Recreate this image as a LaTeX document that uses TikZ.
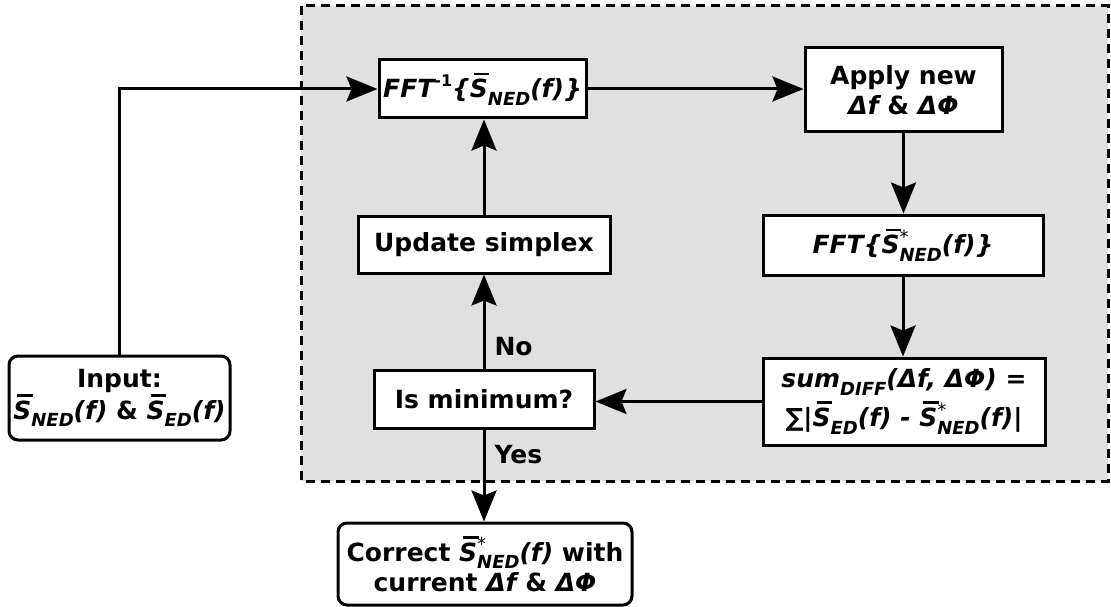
\documentclass[tikz,border=0pt]{standalone}
\usepackage{fontspec}
\setmainfont{DejaVu Sans}
\usetikzlibrary{arrows.meta}

% S with an overbar
\newcommand\Sb{\leavevmode\rlap{\hspace{0.16em}\rule[0.9em]{0.62em}{0.11em}}\textit{S}}
% lowered subscript
\newcommand\lsub[1]{\raisebox{-0.3em}{\fontsize{18}{18}\selectfont\itshape #1}}
% asterisk stacked over a lowered subscript
\newcommand\ssub[1]{\rlap{\raisebox{0.42em}{\fontsize{18}{18}\selectfont\mdseries *}}\lsub{#1}}

\begin{document}
\begin{tikzpicture}[x=1pt,y=-1pt,
  box/.style={draw,line width=3pt,fill=white,align=center,inner sep=0pt,
    font=\fontsize{25}{30}\selectfont\bfseries},
  rbox/.style={box,rounded corners=9pt},
  flow/.style={line width=3pt,-{Stealth[length=31pt,width=25pt,inset=5pt]}},
  lbl/.style={font=\fontsize{25}{30}\selectfont\bfseries}]
\useasboundingbox (0,0) rectangle (1111,607);

% iteration region
\draw[line width=3pt,dash pattern=on 9pt off 6pt,fill={rgb,255:red,224;green,224;blue,224}]
  (301,6) rectangle (1108,481);

\node[box,minimum width=207pt,minimum height=58pt] (ifft) at (482.5,89)
  {{\itshape FFT}\raisebox{0.45em}{\fontsize{16}{16}\selectfont -1}{\itshape\{\Sb\lsub{NED}(f)\}}};
\node[box,minimum width=197pt,minimum height=84pt] (apply) at (903.5,90)
  {Apply new\\{\itshape Δf} \& {\itshape ΔΦ}};
\node[box,minimum width=280pt,minimum height=60pt] (fft) at (903,245)
  {\itshape FFT\{\Sb\ssub{NED}(f)\}};
\node[box,minimum width=282pt,minimum height=87pt] (sum) at (904,401.5)
  {\itshape sum\lsub{DIFF}(Δf, ΔΦ) =\\[5pt]{\upshape ∑}{\itshape |\Sb\lsub{ED}(f) - \Sb\ssub{NED}(f)|}};
\node[box,minimum width=252pt,minimum height=57pt] (update) at (484,244.5)
  {Update simplex};
\node[box,minimum width=220pt,minimum height=58pt] (ismin) at (484,399)
  {Is minimum?};
\node[rbox,minimum width=221pt,minimum height=84pt] (input) at (119.5,398)
  {Input:\\{\itshape\Sb\lsub{NED}(f)} \& {\itshape\Sb\lsub{ED}(f)}};
\node[rbox,minimum width=294pt,minimum height=82pt] (correct) at (485,564)
  {Correct {\itshape\Sb\ssub{NED}(f)} with\\current {\itshape Δf} \& {\itshape ΔΦ}};

\node[lbl,anchor=west] (no) at (491,347) {No};
\node[lbl,anchor=west] (yes) at (491,455) {Yes};

\draw[flow] (input.north) |- (ifft.west);
\draw[flow] (ifft.east) -- (ifft.east -| apply.west);
\draw[flow] (apply.south) -- (apply.south |- fft.north);
\draw[flow] (fft.south) -- (fft.south |- sum.north);
\draw[flow] (sum.west) -- (sum.west -| ismin.east);
\draw[flow] (ismin.north) -- (update.south);
\draw[flow] (update.north) -- (update.north |- ifft.south);
\draw[flow] (ismin.south) -- (ismin.south |- correct.north);
\end{tikzpicture}
\end{document}
